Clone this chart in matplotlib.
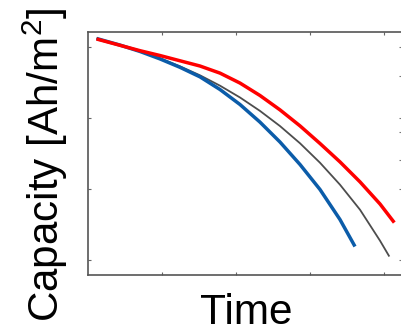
import matplotlib
matplotlib.use("Agg")
import matplotlib.pyplot as plt

plt.rcParams['font.family'] = ['Liberation Sans', 'DejaVu Sans']
plt.rcParams['mathtext.fontset'] = 'custom'
plt.rcParams['mathtext.rm'] = 'Liberation Sans'
plt.rcParams['mathtext.it'] = 'Liberation Sans:italic'
plt.rcParams['mathtext.bf'] = 'Liberation Sans:bold'

# Data (axis units are arbitrary tick indices)
blue_x = [0.115, 0.432, 0.703, 0.973, 1.243, 1.514, 1.784, 2.054, 2.324,
          2.595, 2.865, 3.135, 3.405, 3.608]
blue_y = [3.120, 3.027, 2.937, 2.832, 2.714, 2.579, 2.401, 2.190, 1.942,
          1.661, 1.345, 0.993, 0.570, 0.190]

gray_x = [0.115, 0.432, 0.703, 0.973, 1.243, 1.514, 1.784, 2.054, 2.324,
          2.595, 2.865, 3.135, 3.405, 3.676, 3.946, 4.072]
gray_y = [3.120, 3.024, 2.937, 2.841, 2.728, 2.601, 2.455, 2.289, 2.100,
          1.886, 1.644, 1.370, 1.061, 0.708, 0.272, 0.049]

red_x = [0.115, 0.432, 0.703, 0.973, 1.243, 1.514, 1.784, 2.054, 2.324,
         2.595, 2.865, 3.135, 3.405, 3.676, 3.946, 4.139]
red_y = [3.113, 3.024, 2.948, 2.880, 2.806, 2.732, 2.632, 2.492, 2.317,
         2.114, 1.889, 1.641, 1.382, 1.100, 0.789, 0.527]

x_ticks = [1, 2, 3, 4]
y_ticks = [0, 1, 2, 3]
y_right_ticks = [0.0, 0.996, 1.408, 1.807, 1.996, 2.596, 3.0]

W, H = 401, 333
fig = plt.figure(figsize=(W / 100, H / 100), dpi=100)
ax = fig.add_axes([88 / W, 1 - 275 / H, (402 - 88) / W, (275 - 32) / H])

ax.plot(gray_x, gray_y, color='#4d4d4d', lw=1.3, solid_capstyle='butt',
        solid_joinstyle='round', zorder=2)
ax.plot(blue_x, blue_y, color='#0b5ca9', lw=2.5, solid_capstyle='butt',
        solid_joinstyle='round', zorder=3)
ax.plot(red_x, red_y, color='#ff0000', lw=2.5, solid_capstyle='butt',
        solid_joinstyle='round', zorder=4)

ax.set_xlim(0, (402 - 88) / 74)
ax.set_ylim((260 - 275) / 71, (260 - 32) / 71)
ax.set_xticks(x_ticks)
ax.set_yticks(y_ticks)
ax.tick_params(direction='in', length=2.3, width=0.8, color='#666666',
               top=True, right=False, labelbottom=False, labelleft=False)
for s in ax.spines.values():
    s.set_color('#555555')
    s.set_linewidth(1.2)

ax2 = ax.twinx()
ax2.set_ylim(ax.get_ylim())
ax2.set_yticks(y_right_ticks)
ax2.tick_params(direction='in', length=2.3, width=0.8, color='#777777',
                labelright=False)
for s in ax2.spines.values():
    s.set_visible(False)

fig.text(45 / W, 1 - 165 / H, 'Capacity [Ah/m$^2$]', rotation=90,
         ha='center', va='center', fontsize=30.3, color='black')
fig.text(246.5 / W, 1 - 324.5 / H, 'Time', ha='center', va='baseline',
         fontsize=30.5, color='black')

fig.savefig('out.png', dpi=100)
